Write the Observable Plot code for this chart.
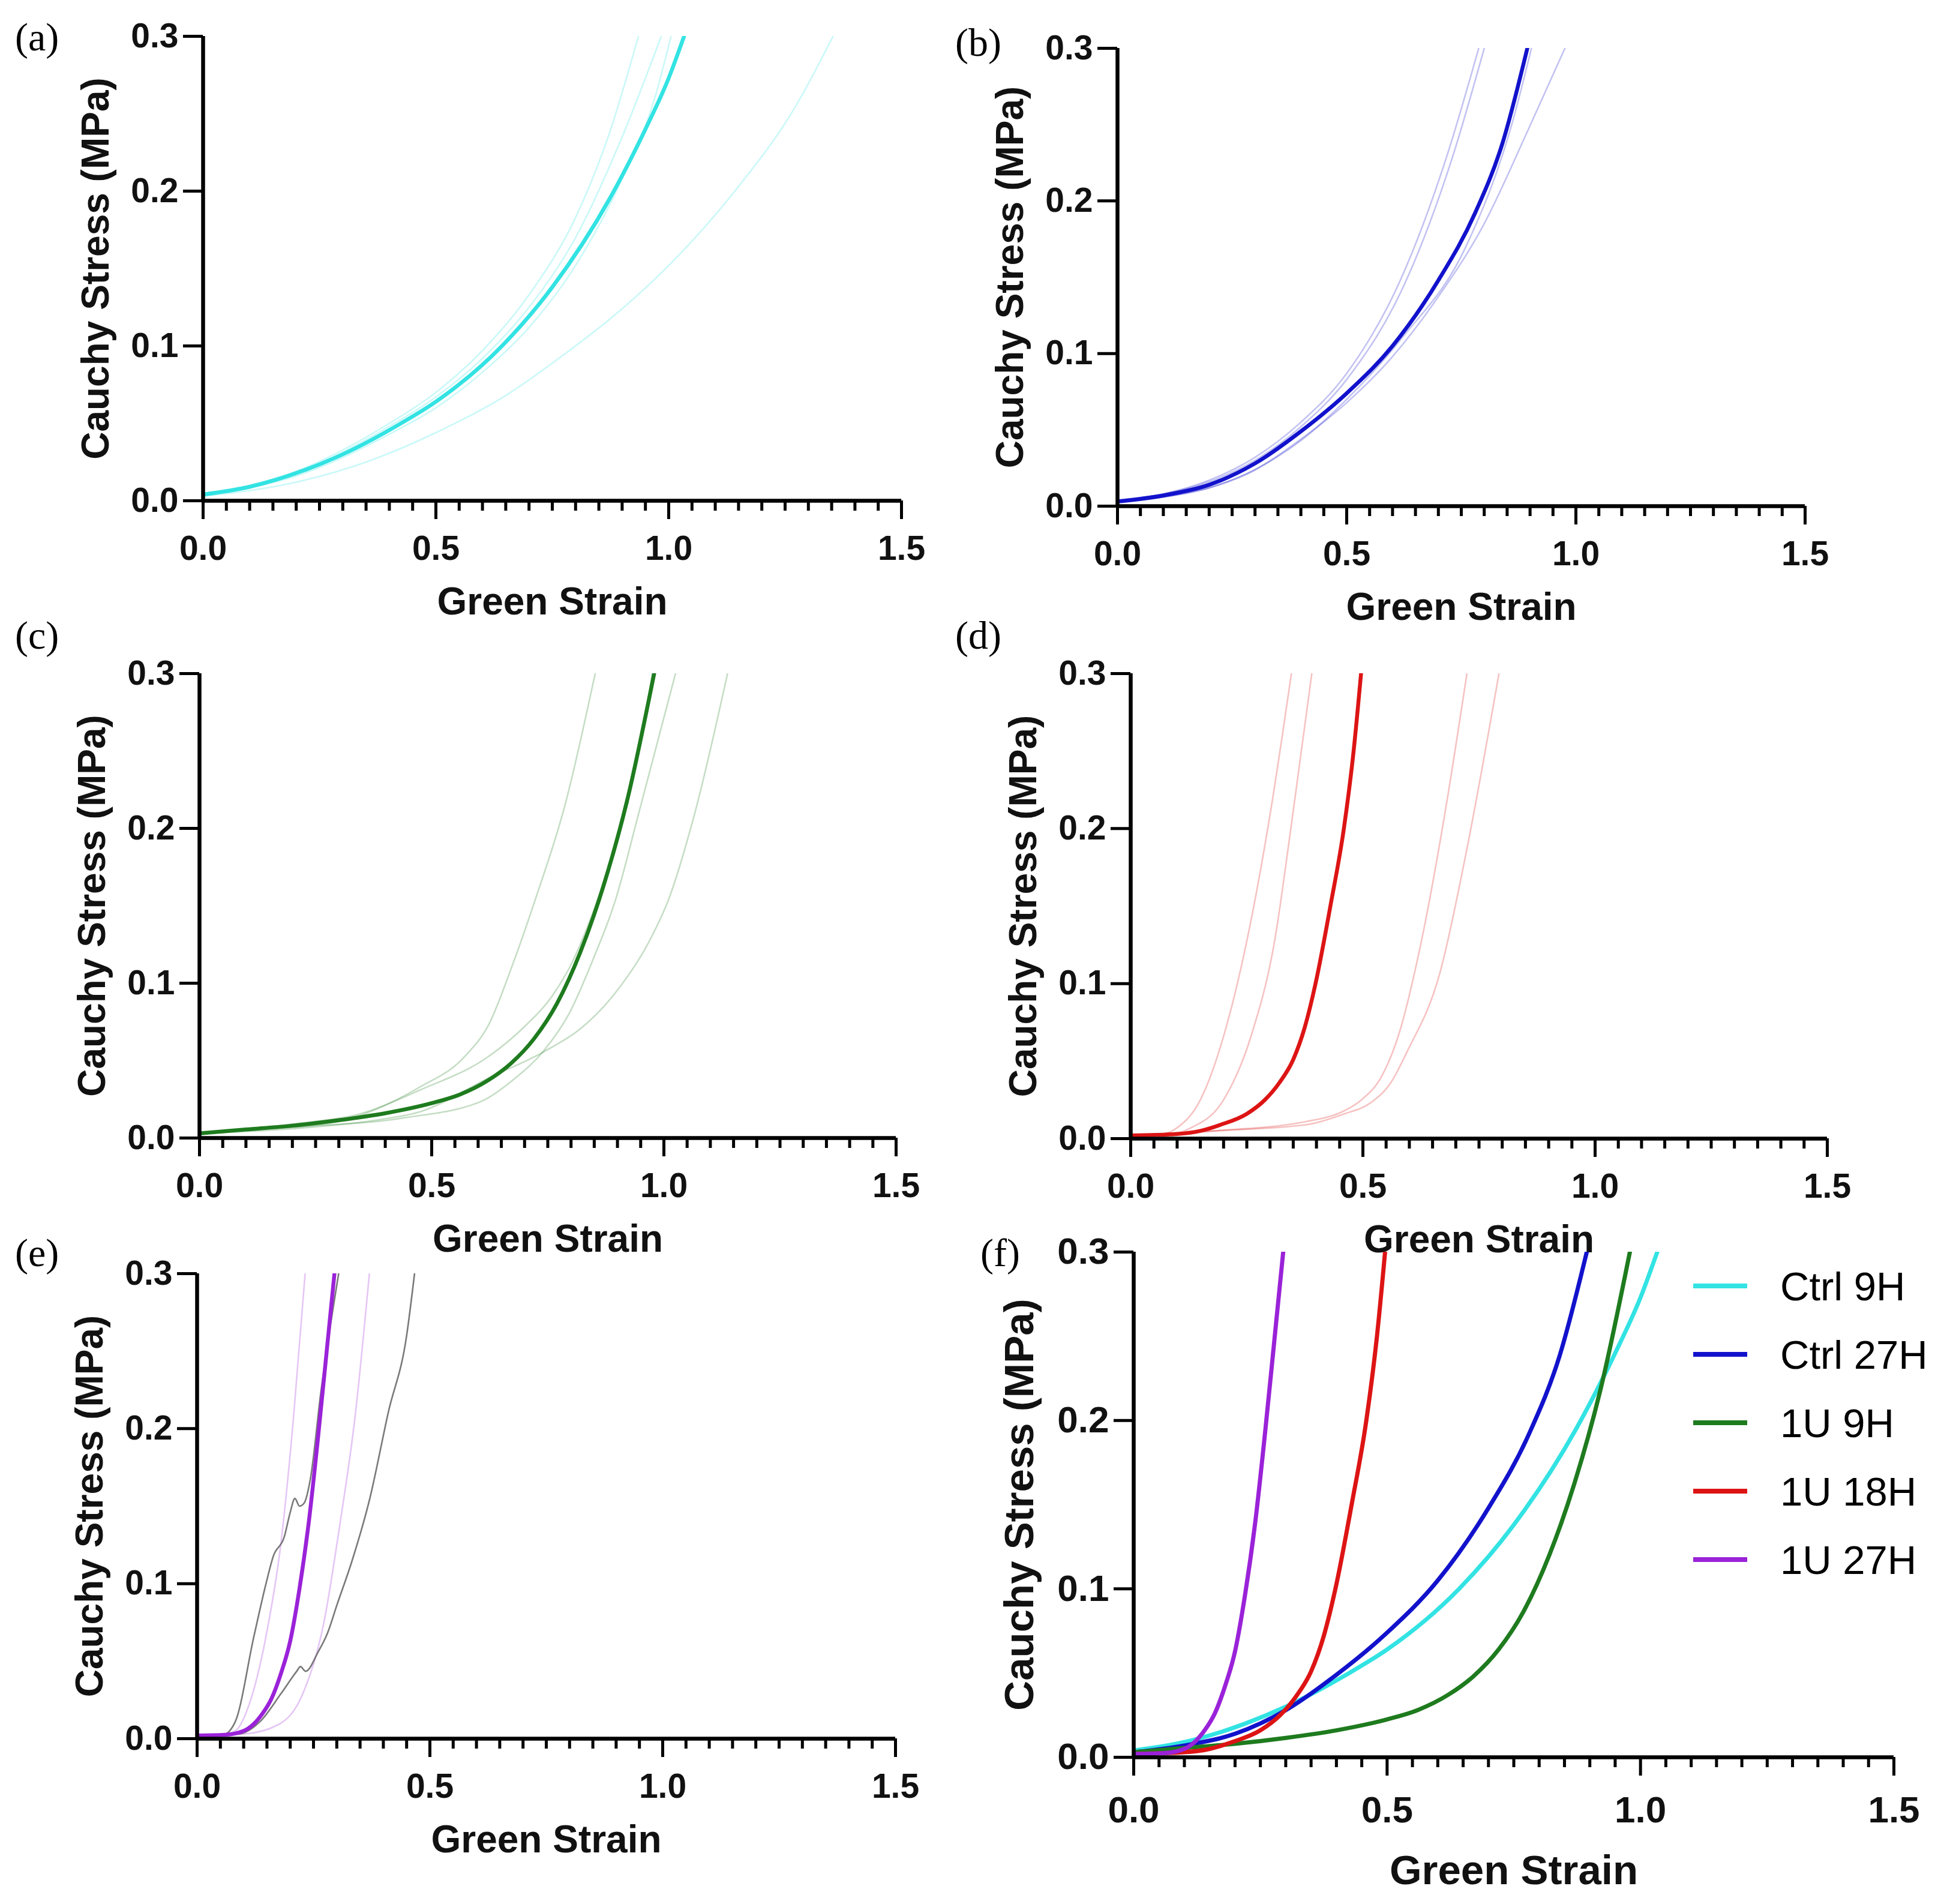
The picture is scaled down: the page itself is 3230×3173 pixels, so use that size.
<!DOCTYPE html>
<html>
<head>
<meta charset="utf-8">
<script src="https://cdn.jsdelivr.net/npm/d3@7"></script>
<script src="https://cdn.jsdelivr.net/npm/@observablehq/plot@0.6"></script>
<style>
  body { margin: 0; background: #fff; }
  #fig { position: relative; width: 3230px; height: 3173px; }
  .panel { position: absolute; }
  .tag { position: absolute; font-family: "Liberation Serif", serif; font-size: 66px; line-height: 1; }
  .legend { position: absolute; left: 2822px; top: 2086px; font-family: "Liberation Sans", Arial, sans-serif; font-size: 67px; }
  .legend div { position: absolute; left: 0; height: 80px; display: flex; align-items: center; white-space: nowrap; }
  .legend span { display: inline-block; width: 90px; height: 8px; margin-right: 55px; }
</style>
</head>
<body>
<div id="fig"></div>
<script>
// strain / stress pairs
const ctrl9H = [[0,0.004],[0.1,0.009],[0.22,0.02],[0.3,0.03],[0.425,0.05],[0.5,0.064],[0.642,0.1],[0.75,0.138],[0.873,0.195],[0.95,0.24],[1.0,0.273],[1.033,0.3]];
const ctrl27H = [[0,0.003],[0.1,0.007],[0.2,0.014],[0.3,0.028],[0.4,0.049],[0.5,0.074],[0.6,0.105],[0.7,0.148],[0.78,0.192],[0.84,0.238],[0.894,0.3]];
const u1_9H = [[0,0.003],[0.1,0.0055],[0.2,0.008],[0.3,0.0115],[0.4,0.016],[0.5,0.0225],[0.56,0.028],[0.62,0.037],[0.67,0.048],[0.72,0.064],[0.77,0.087],[0.82,0.12],[0.87,0.163],[0.92,0.217],[0.979,0.3]];
const u1_18H = [[0,0.002],[0.1,0.003],[0.15,0.005],[0.194,0.009],[0.25,0.016],[0.289,0.025],[0.32,0.036],[0.35,0.051],[0.375,0.072],[0.398,0.1],[0.43,0.15],[0.459,0.2],[0.48,0.25],[0.496,0.3]];
const u1_27H = [[0,0.002],[0.06,0.0025],[0.1,0.005],[0.12,0.009],[0.14,0.016],[0.16,0.026],[0.18,0.042],[0.2,0.063],[0.22,0.097],[0.24,0.14],[0.26,0.195],[0.28,0.255],[0.295,0.3]];

// individual samples
const ctrl9H_s = [
  [[0,0.004],[0.2,0.019],[0.4,0.05],[0.5,0.07],[0.6,0.097],[0.7,0.133],[0.8,0.183],[0.87,0.235],[0.935,0.3]],
  [[0,0.004],[0.2,0.018],[0.4,0.048],[0.5,0.067],[0.6,0.092],[0.7,0.125],[0.8,0.17],[0.9,0.235],[0.984,0.3]],
  [[0,0.004],[0.2,0.016],[0.4,0.043],[0.5,0.06],[0.6,0.083],[0.7,0.112],[0.8,0.152],[0.9,0.208],[0.97,0.26],[1.005,0.3]],
  [[0,0.003],[0.2,0.012],[0.35,0.025],[0.5,0.044],[0.65,0.068],[0.773,0.094],[0.9,0.124],[1.01,0.155],[1.142,0.2],[1.273,0.255],[1.353,0.3]]
];
const ctrl27H_s = [
  [[0,0.004],[0.1,0.008],[0.2,0.017],[0.3,0.032],[0.4,0.055],[0.5,0.087],[0.617,0.148],[0.717,0.228],[0.788,0.3]],
  [[0,0.004],[0.1,0.008],[0.2,0.016],[0.3,0.03],[0.4,0.052],[0.5,0.083],[0.63,0.148],[0.73,0.228],[0.8,0.3]],
  [[0,0.003],[0.1,0.006],[0.2,0.012],[0.3,0.024],[0.4,0.043],[0.5,0.07],[0.62,0.11],[0.76,0.17],[0.86,0.25],[0.903,0.3]],
  [[0,0.003],[0.1,0.006],[0.2,0.012],[0.296,0.023],[0.396,0.043],[0.497,0.067],[0.597,0.097],[0.697,0.136],[0.798,0.184],[0.898,0.248],[0.976,0.3]]
];
const u1_9H_s = [
  [[0,0.003],[0.15,0.006],[0.29,0.01],[0.475,0.033],[0.569,0.052],[0.624,0.074],[0.673,0.111],[0.723,0.154],[0.787,0.215],[0.852,0.3]],
  [[0,0.003],[0.2,0.007],[0.44,0.013],[0.609,0.024],[0.673,0.037],[0.743,0.057],[0.797,0.081],[0.847,0.115],[0.896,0.154],[0.946,0.21],[1.025,0.3]],
  [[0,0.003],[0.2,0.006],[0.391,0.012],[0.475,0.017],[0.624,0.039],[0.743,0.056],[0.822,0.071],[0.896,0.094],[0.97,0.128],[1.01,0.154],[1.064,0.207],[1.137,0.3]],
  [[0,0.003],[0.2,0.009],[0.35,0.016],[0.475,0.031],[0.624,0.053],[0.7,0.072],[0.76,0.092],[0.8,0.112],[0.85,0.148],[0.907,0.2],[0.95,0.255],[0.975,0.3]]
];
const u1_18H_s = [
  [[0,0.002],[0.07,0.003],[0.1,0.007],[0.15,0.025],[0.2,0.066],[0.249,0.126],[0.299,0.207],[0.346,0.3]],
  [[0,0.002],[0.09,0.003],[0.13,0.007],[0.2,0.025],[0.259,0.066],[0.309,0.126],[0.348,0.207],[0.39,0.3]],
  [[0,0.002],[0.18,0.005],[0.378,0.011],[0.46,0.018],[0.497,0.025],[0.54,0.04],[0.576,0.066],[0.625,0.126],[0.675,0.207],[0.724,0.3]],
  [[0,0.002],[0.18,0.005],[0.378,0.009],[0.46,0.016],[0.516,0.023],[0.56,0.036],[0.595,0.056],[0.665,0.106],[0.724,0.187],[0.793,0.3]]
];
const u1_27H_s = [
  [[0,0.002],[0.06,0.003],[0.082,0.005],[0.115,0.025],[0.148,0.066],[0.18,0.126],[0.207,0.207],[0.232,0.3]],
  [[0,0.002],[0.1,0.003],[0.174,0.009],[0.227,0.029],[0.273,0.076],[0.306,0.137],[0.339,0.207],[0.37,0.3]]
];
const u1_27H_gray = [
  [[0,0.002],[0.056,0.0026],[0.082,0.011],[0.122,0.066],[0.148,0.1],[0.164,0.118],[0.187,0.13],[0.2,0.146],[0.21,0.155],[0.22,0.15],[0.23,0.152],[0.243,0.167],[0.266,0.224],[0.304,0.3]],
  [[0,0.002],[0.089,0.003],[0.135,0.011],[0.18,0.029],[0.214,0.0435],[0.222,0.0465],[0.233,0.0435],[0.26,0.056],[0.28,0.068],[0.3,0.086],[0.332,0.114],[0.371,0.155],[0.411,0.211],[0.45,0.26],[0.467,0.3]]
];

const groups = ["Ctrl 9H", "Ctrl 27H", "1U 9H", "1U 18H", "1U 27H"];
const colors = ["#33e3e3", "#1212cc", "#1e7b1e", "#dd1414", "#9a22d8"];
const xTicks = [0, 0.5, 1.0, 1.5];
const yTicks = [0, 0.1, 0.2, 0.3];

const sans = "'Liberation Sans', Arial, sans-serif";
const fig = document.getElementById("fig");

function panel(frame, lines, sz) {
  const [x0, x1, yT, yB] = frame;
  const mL = 280, mR = 80, mT = 40, mB = 240;
  const minor = d3.range(1, 31).map(i => i * 0.05).filter(v => Math.abs(v * 2 - Math.round(v * 2)) > 1e-6);
  const chart = Plot.plot({
    width: x1 - x0 + mL + mR,
    height: yB - yT + mT + mB,
    marginLeft: mL, marginRight: mR, marginTop: mT, marginBottom: mB,
    style: {background: "transparent", overflow: "visible"},
    x: {domain: [0, 1.5]},
    y: {domain: [0, 0.3]},
    marks: [
      ...lines.map(l => Plot.line(l.data, {x: d => d[0], y: d => d[1], stroke: l.color, strokeOpacity: l.op ?? 1, strokeWidth: l.w, curve: "monotone-x", clip: true})),
      Plot.axisX({ticks: minor, tickSize: 17, strokeWidth: 5, tickFormat: () => "", label: null}),
      Plot.axisX({ticks: xTicks, tickSize: 31, strokeWidth: 5, tickPadding: sz.xPad, tickFormat: d3.format(".1f"),
        fontSize: sz.tick, fontWeight: "bold", fontFamily: sans, fill: "#111", label: null}),
      Plot.axisY({ticks: yTicks, tickSize: 33, strokeWidth: 5, tickPadding: 8, tickFormat: d3.format(".1f"),
        fontSize: sz.tick, fontWeight: "bold", fontFamily: sans, fill: "#111", label: null}),
      Plot.ruleY([0], {strokeWidth: 6.5}),
      Plot.ruleX([0], {strokeWidth: 6.5}),
      Plot.text(["Green Strain"], {frameAnchor: "bottom", dy: sz.xt, lineAnchor: "middle", textAnchor: "middle",
        fontSize: sz.title, fontWeight: "bold", fontFamily: sans, fill: "#111"}),
      Plot.text(["Cauchy Stress (MPa)"], {frameAnchor: "left", dx: -sz.yt, rotate: -90, lineAnchor: "middle", textAnchor: "middle",
        fontSize: sz.title, fontWeight: "bold", fontFamily: sans, fill: "#111"})
    ]
  });
  chart.classList.add("panel");
  chart.style.left = (x0 - mL) + "px";
  chart.style.top = (yT - mT) + "px";
  fig.append(chart);
}

function single(main, samples, color, extra) {
  return [
    ...samples.map(s => ({data: s, color, op: 0.26, w: 2.6})),
    ...(extra || []),
    {data: main, color, w: 6.5}
  ];
}

const small = {tick: 57, title: 64, xPad: 27, xt: 169, yt: 178};

panel([338, 1502, 60, 834], single(ctrl9H, ctrl9H_s, colors[0]), small);
panel([1862, 3008, 80, 843], single(ctrl27H, ctrl27H_s, colors[1]), small);
panel([332, 1493, 1122, 1896], single(u1_9H, u1_9H_s, colors[2]), small);
panel([1884, 3045, 1122, 1897], single(u1_18H, u1_18H_s, colors[3]), small);
panel([328, 1492, 2122, 2897], single(u1_27H, u1_27H_s, colors[4],
  u1_27H_gray.map(g => ({data: g, color: "#6a6a6a", op: 0.9, w: 2.6}))), small);
panel([1889, 3156, 2086, 2928],
  [ctrl9H, ctrl27H, u1_9H, u1_18H, u1_27H].map((d, i) => ({data: d, color: colors[i], w: 7})),
  {tick: 62, title: 69, xPad: 33, xt: 189, yt: 190});

// panel tags
[["(a)", 25, 29], ["(b)", 1592, 38], ["(c)", 25, 1026], ["(d)", 1592, 1026], ["(e)", 25, 2055], ["(f)", 1634, 2055]]
  .forEach(([t, x, y]) => {
    const el = document.createElement("div");
    el.className = "tag";
    el.textContent = t;
    el.style.left = x + "px";
    el.style.top = y + "px";
    fig.append(el);
  });

// legend of panel (f)
const legend = document.createElement("div");
legend.className = "legend";
groups.forEach((g, i) => {
  const row = document.createElement("div");
  row.style.top = (17 + i * 114) + "px";
  const sw = document.createElement("span");
  sw.style.background = colors[i];
  row.append(sw, g);
  legend.append(row);
});
fig.append(legend);
</script>
</body>
</html>
